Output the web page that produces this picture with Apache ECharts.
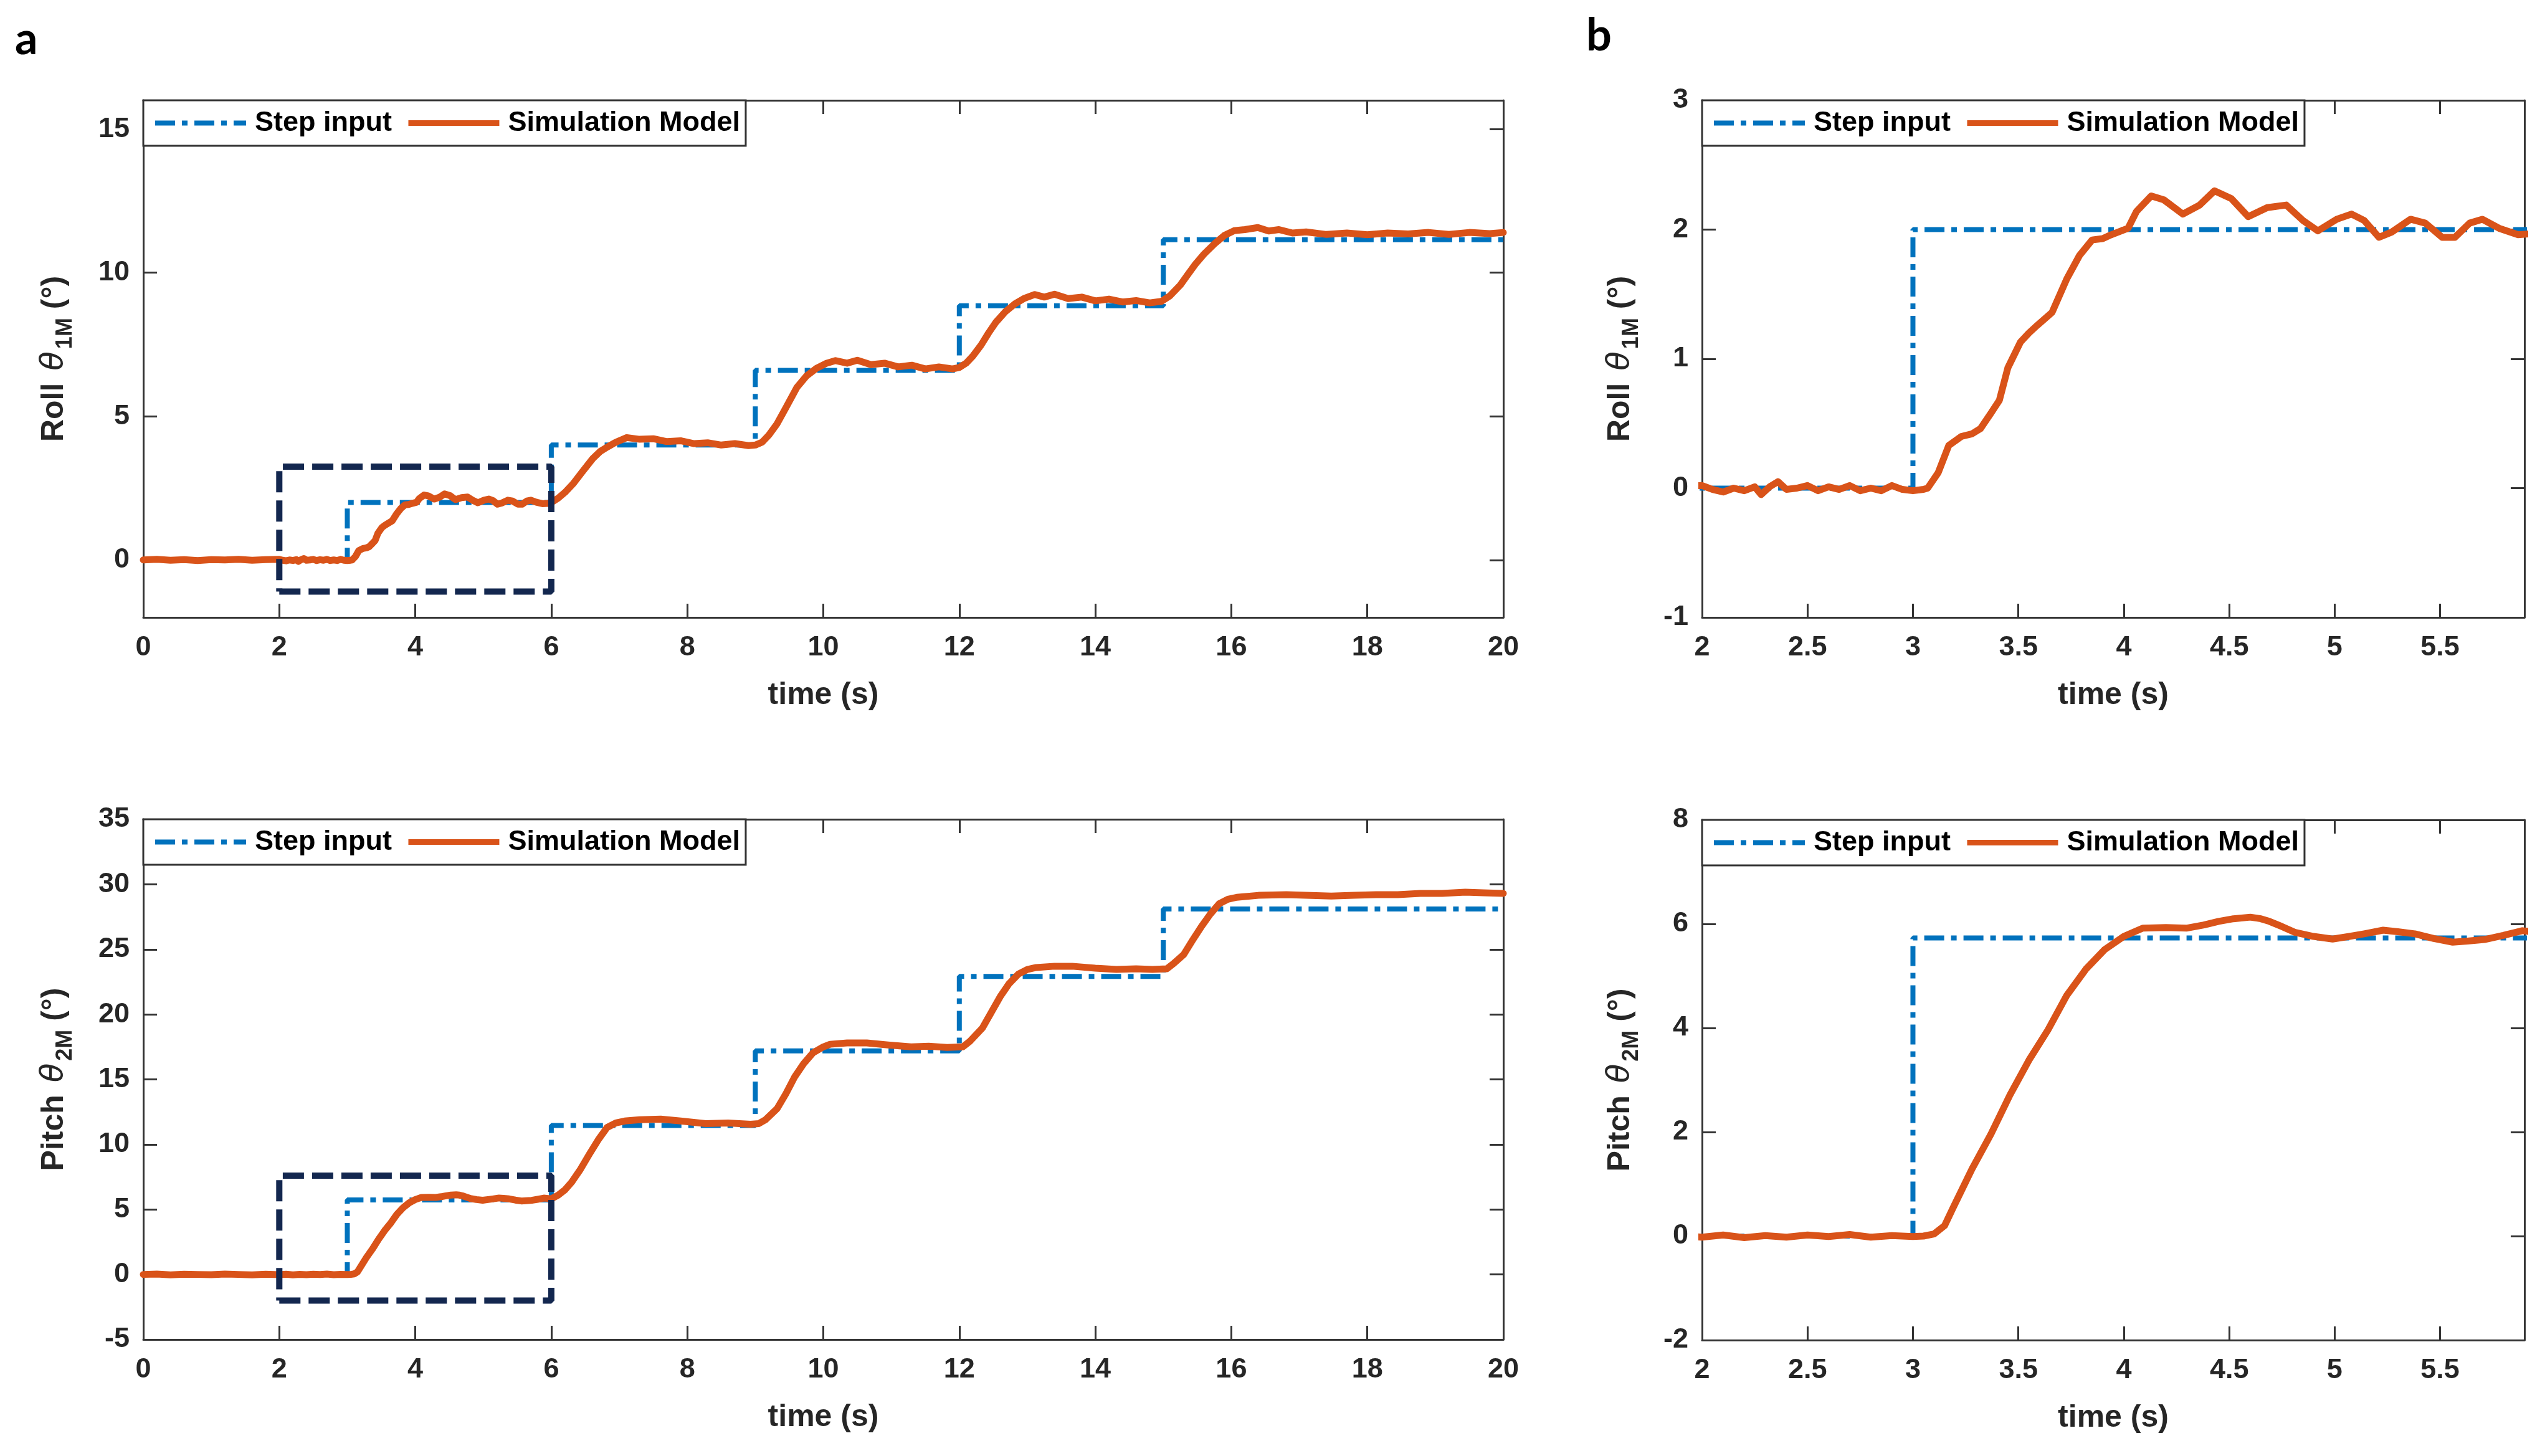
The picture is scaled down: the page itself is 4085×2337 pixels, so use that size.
<!DOCTYPE html>
<html><head><meta charset="utf-8">
<script src="https://cdn.jsdelivr.net/npm/echarts@6/dist/echarts.min.js"></script>
<style>html,body{margin:0;padding:0;background:#fff}#c{width:4085px;height:2337px}</style>
</head><body><div id="c"></div><script>
// ---------- data ----------
const stepTimes = [0, 3, 6, 9, 12, 15, 20];
const rollStepLevels = [0, 2, 4, 6.6, 8.85, 11.15];
const pitchStepLevels = [0, 5.73, 11.46, 17.19, 22.92, 28.1];

const rollSim = [
 [0,0],[0.2,0.02],[0.4,-0.01],[0.6,0.01],[0.8,-0.02],[1.0,0.01],[1.2,0],[1.4,0.02],[1.6,-0.01],[1.8,0.01],
 [2.0,0.02],[2.05,-0.01],[2.1,-0.03],[2.15,0],[2.2,-0.02],[2.25,0.01],[2.28,-0.05],[2.32,0.01],[2.36,0.05],[2.4,-0.01],
 [2.45,0],[2.5,0.02],[2.55,-0.02],[2.6,0.01],[2.65,-0.01],[2.7,0.02],[2.75,-0.02],[2.8,0],[2.85,-0.02],[2.9,0.02],
 [2.95,-0.01],[3.0,-0.02],[3.05,-0.01],[3.07,0],[3.12,0.12],[3.17,0.33],[3.23,0.40],[3.28,0.42],[3.32,0.46],[3.37,0.58],
 [3.41,0.68],[3.45,0.93],[3.51,1.13],[3.55,1.20],[3.59,1.26],[3.66,1.36],[3.73,1.62],[3.79,1.80],[3.85,1.92],[3.90,1.93],
 [3.94,1.96],[4.02,2.01],[4.06,2.14],[4.13,2.26],[4.19,2.23],[4.28,2.12],[4.36,2.19],[4.43,2.30],[4.51,2.24],[4.59,2.10],
 [4.68,2.17],[4.77,2.19],[4.85,2.07],[4.92,1.99],[5.01,2.08],[5.08,2.12],[5.14,2.07],[5.21,1.94],[5.27,1.98],[5.36,2.08],
 [5.43,2.05],[5.51,1.94],[5.57,1.94],[5.64,2.05],[5.70,2.08],[5.78,2.01],[5.87,1.96],[5.95,1.97],[6.0,2.0],
 [6.1,2.15],[6.2,2.35],[6.32,2.65],[6.45,3.05],[6.61,3.53],[6.72,3.78],[6.83,3.94],[6.95,4.10],[7.11,4.26],[7.3,4.20],
 [7.5,4.22],[7.7,4.12],[7.9,4.15],[8.1,4.05],[8.3,4.08],[8.5,4.00],[8.7,4.05],[8.9,3.98],[9.0,4.0],
 [9.1,4.10],[9.2,4.35],[9.32,4.74],[9.45,5.30],[9.61,6.00],[9.75,6.40],[9.9,6.67],[10.05,6.85],[10.18,6.94],[10.35,6.85],
 [10.5,6.95],[10.7,6.80],[10.9,6.85],[11.1,6.72],[11.3,6.78],[11.5,6.65],[11.7,6.72],[11.9,6.65],[12.0,6.70],
 [12.1,6.85],[12.2,7.10],[12.32,7.48],[12.43,7.90],[12.54,8.28],[12.68,8.65],[12.82,8.92],[12.95,9.10],[13.11,9.24],[13.25,9.15],
 [13.4,9.25],[13.6,9.10],[13.8,9.15],[14.0,9.02],[14.2,9.08],[14.4,8.98],[14.6,9.03],[14.8,8.95],[14.97,9.0],
 [15.1,9.20],[15.25,9.57],[15.35,9.90],[15.47,10.29],[15.6,10.65],[15.75,11.0],[15.9,11.3],[16.04,11.46],[16.2,11.50],[16.39,11.57],
 [16.55,11.45],[16.7,11.50],[16.9,11.38],[17.1,11.42],[17.4,11.33],[17.7,11.38],[18.0,11.32],[18.3,11.38],[18.6,11.35],[18.9,11.40],
 [19.2,11.33],[19.5,11.40],[19.8,11.36],[20.0,11.40]
];

const pitchSim = [
 [0,0],[0.2,0.03],[0.4,-0.03],[0.6,0.02],[0.8,0],[1.0,-0.02],[1.2,0.03],[1.4,0],[1.6,-0.03],[1.8,0.02],
 [2.0,-0.02],[2.1,0.02],[2.2,-0.03],[2.3,0.01],[2.4,-0.02],[2.5,0.02],[2.6,-0.01],[2.7,0.03],[2.8,-0.02],[2.9,0.01],
 [3.0,-0.01],[3.05,0.0],[3.1,0.04],[3.15,0.20],[3.19,0.54],[3.28,1.29],[3.37,1.96],[3.46,2.71],[3.55,3.38],[3.64,3.96],
 [3.73,4.63],[3.82,5.13],[3.91,5.51],[4.0,5.76],[4.09,5.92],[4.2,5.93],[4.30,5.92],[4.38,5.98],[4.45,6.05],[4.52,6.10],
 [4.60,6.13],[4.65,6.10],[4.69,6.05],[4.75,5.95],[4.81,5.84],[4.9,5.76],[4.99,5.71],[5.07,5.76],[5.14,5.81],[5.23,5.88],
 [5.3,5.85],[5.38,5.81],[5.47,5.72],[5.56,5.65],[5.63,5.67],[5.71,5.70],[5.8,5.78],[5.89,5.87],[6.0,5.82],
 [6.1,6.1],[6.2,6.5],[6.3,7.1],[6.43,8.1],[6.56,9.25],[6.69,10.35],[6.82,11.3],[6.95,11.65],[7.08,11.8],[7.3,11.9],
 [7.61,11.95],[7.9,11.8],[8.27,11.6],[8.6,11.65],[8.93,11.55],[9.05,11.6],
 [9.15,11.9],[9.32,12.75],[9.45,13.9],[9.58,15.2],[9.71,16.2],[9.85,17.05],[10.0,17.5],[10.1,17.7],[10.35,17.8],[10.64,17.8],
 [10.95,17.65],[11.29,17.5],[11.55,17.55],[11.82,17.45],[12.05,17.5],
 [12.15,17.9],[12.34,18.95],[12.47,20.15],[12.6,21.35],[12.73,22.35],[12.87,23.1],[13.0,23.45],[13.13,23.6],[13.4,23.7],[13.66,23.7],
 [14.0,23.55],[14.31,23.45],[14.6,23.5],[14.84,23.45],[15.05,23.5],
 [15.15,23.9],[15.3,24.6],[15.43,25.7],[15.56,26.75],[15.69,27.7],[15.82,28.5],[15.95,28.85],[16.08,29.0],[16.4,29.15],[16.81,29.2],
 [17.1,29.15],[17.47,29.1],[17.8,29.15],[18.13,29.2],[18.45,29.2],[18.78,29.3],[19.1,29.3],[19.44,29.4],[19.7,29.35],[20.0,29.3]
];

const zoomBoxT = [2, 6];
const rollBoxY = [-1.1, 3.25];
const pitchBoxY = [-2.0, 7.6];

const timeTicksA = [0, 2, 4, 6, 8, 10, 12, 14, 16, 18, 20];
const timeTicksB = [2, 2.5, 3, 3.5, 4, 4.5, 5, 5.5];
const rollTicksA = [0, 5, 10, 15];
const pitchTicksA = [-5, 0, 5, 10, 15, 20, 25, 30, 35];
const rollTicksB = [-1, 0, 1, 2, 3];
const pitchTicksB = [-2, 0, 2, 4, 6, 8];

const legendNames = ['Step input', 'Simulation Model'];
const xTitle = 'time (s)';
const rollTitle = '{a|Roll }{t|θ}{s|1M}{a| (°)}';
const pitchTitle = '{a|Pitch }{t|θ}{s|2M}{a| (°)}';
const panelLabels = ['a', 'b'];

// ---------- build ----------
function stepData(levels) {
  const d = [];
  for (let i = 0; i < levels.length; i++) {
    d.push([stepTimes[i], levels[i]]);
    d.push([stepTimes[i + 1], levels[i]]);
  }
  return d;
}
function boxData(ty) {
  return [[zoomBoxT[0], ty[0]], [zoomBoxT[1], ty[0]], [zoomBoxT[1], ty[1]], [zoomBoxT[0], ty[1]], [zoomBoxT[0], ty[0]]];
}

const FONT = 'Liberation Sans, Arial, sans-serif';
const AX = '#333333';
const TXT = '#262626';
const STEP_STYLE = {color:'#0072BD', width:8, type:[32,11,9,11], cap:'butt'};
const SIM_STYLE = {color:'#D95319', width:11, join:'round', cap:'round'};

const panels = [
  {grid:{left:230, top:161, width:2183, height:830}, x:[0,20], y:[-2,16], xt:timeTicksA, yt:rollTicksA,
   yname:rollTitle, yGap:112, step:rollStepLevels, sim:rollSim, box:rollBoxY},
  {grid:{left:230, top:1315, width:2183, height:835}, x:[0,20], y:[-5,35], xt:timeTicksA, yt:pitchTicksA,
   yname:pitchTitle, yGap:112, step:pitchStepLevels, sim:pitchSim, box:pitchBoxY},
  {grid:{left:2732, top:161, width:1320, height:830}, x:[2,5.9], y:[-1,3], xt:timeTicksB, yt:rollTicksB,
   yname:rollTitle, yGap:100, step:rollStepLevels, sim:rollSim, box:null},
  {grid:{left:2732, top:1316, width:1320, height:835}, x:[2,5.9], y:[-2,8], xt:timeTicksB, yt:pitchTicksB,
   yname:pitchTitle, yGap:100, step:pitchStepLevels, sim:pitchSim, box:null}
];

const grids = [], xAxes = [], yAxes = [], series = [], legends = [];
const tickStyle = {show:true, inside:true, length:22, lineStyle:{color:AX, width:3}};
const lineAx = {show:true, onZero:false, lineStyle:{color:AX, width:3}};
const labStyle = {fontFamily:FONT, fontSize:45, fontWeight:'bold', color:TXT};

panels.forEach((p, i) => {
  grids.push(Object.assign({containLabel:false}, p.grid));
  xAxes.push({type:'value', gridIndex:i, position:'bottom', min:p.x[0], max:p.x[1],
    axisLine:lineAx, axisTick:Object.assign({customValues:p.xt}, tickStyle),
    axisLabel:Object.assign({customValues:p.xt, margin:26}, labStyle), splitLine:{show:false},
    name:xTitle, nameLocation:'middle', nameGap:100,
    nameTextStyle:{fontFamily:FONT, fontSize:50, fontWeight:'bold', color:TXT}});
  xAxes.push({type:'value', gridIndex:i, position:'top', min:p.x[0], max:p.x[1],
    axisLine:lineAx, axisTick:Object.assign({customValues:p.xt}, tickStyle),
    axisLabel:{show:false}, splitLine:{show:false}});
  yAxes.push({type:'value', gridIndex:i, position:'left', min:p.y[0], max:p.y[1],
    axisLine:lineAx, axisTick:Object.assign({customValues:p.yt}, tickStyle),
    axisLabel:Object.assign({customValues:p.yt, margin:22}, labStyle), splitLine:{show:false},
    name:p.yname, nameLocation:'middle', nameGap:p.yGap, nameRotate:90,
    nameTextStyle:{fontFamily:FONT, fontSize:50, fontWeight:'bold', color:TXT,
      rich:{
        a:{fontFamily:FONT, fontSize:50, fontWeight:'bold', color:TXT, lineHeight:56, verticalAlign:'top'},
        t:{fontFamily:'DejaVu Sans, sans-serif', fontStyle:'italic', fontSize:50, fontWeight:'normal', color:TXT, lineHeight:56, verticalAlign:'top', padding:[0,4,0,6]},
        s:{fontFamily:FONT, fontSize:36, fontWeight:'bold', color:TXT, lineHeight:36, padding:[30,0,0,0]}
      }}});
  yAxes.push({type:'value', gridIndex:i, position:'right', min:p.y[0], max:p.y[1],
    axisLine:lineAx, axisTick:Object.assign({customValues:p.yt}, tickStyle),
    axisLabel:{show:false}, splitLine:{show:false}});

  series.push({name:legendNames[0], type:'line', xAxisIndex:2*i, yAxisIndex:2*i, data:stepData(p.step),
    symbol:'none', showSymbol:false, clip:true, z:2, silent:true,
    lineStyle:STEP_STYLE, itemStyle:{color:'#0072BD'}});
  series.push({name:legendNames[1], type:'line', xAxisIndex:2*i, yAxisIndex:2*i, data:p.sim,
    symbol:'none', showSymbol:false, clip:true, z:3, silent:true,
    lineStyle:SIM_STYLE, itemStyle:{color:'#D95319'}});
  if (p.box) {
    series.push({name:'box', type:'line', xAxisIndex:2*i, yAxisIndex:2*i, data:boxData(p.box),
      symbol:'none', clip:true, z:4, silent:true,
      lineStyle:{color:'#13274F', width:10, type:[34,13], cap:'butt'}});
  }
  legends.push({
    data:[
      {name:legendNames[0], itemStyle:{opacity:0, borderWidth:0}, lineStyle:Object.assign({}, STEP_STYLE)},
      {name:legendNames[1], itemStyle:{opacity:0, borderWidth:0}, lineStyle:{color:'#D95319', width:9, cap:'butt'}}
    ],
    left:p.grid.left, top:p.grid.top, orient:'horizontal',
    selectedMode:false, itemWidth:146, itemHeight:40, itemGap:22,
    padding:[14,9,14,15], borderColor:'#333', borderWidth:3, backgroundColor:'#fff', borderRadius:0,
    textStyle:{fontFamily:FONT, fontSize:45, fontWeight:'bold', color:'#000', padding:[0,0,0,9]}, z:10});
});

const chart = echarts.init(document.getElementById('c'), null, {renderer:'canvas'});
chart.setOption({
  animation:false,
  backgroundColor:'#fff',
  grid:grids, xAxis:xAxes, yAxis:yAxes, series:series, legend:legends,
  graphic:[
    {type:'text', left:24, top:28, style:{text:panelLabels[0], fontFamily:'Lato, Open Sans, sans-serif', fontSize:72, fontWeight:'bold', fill:'#000'}},
    {type:'text', left:2546, top:22, style:{text:panelLabels[1], fontFamily:'Lato, Open Sans, sans-serif', fontSize:72, fontWeight:'bold', fill:'#000'}}
  ]
});
</script></body></html>
